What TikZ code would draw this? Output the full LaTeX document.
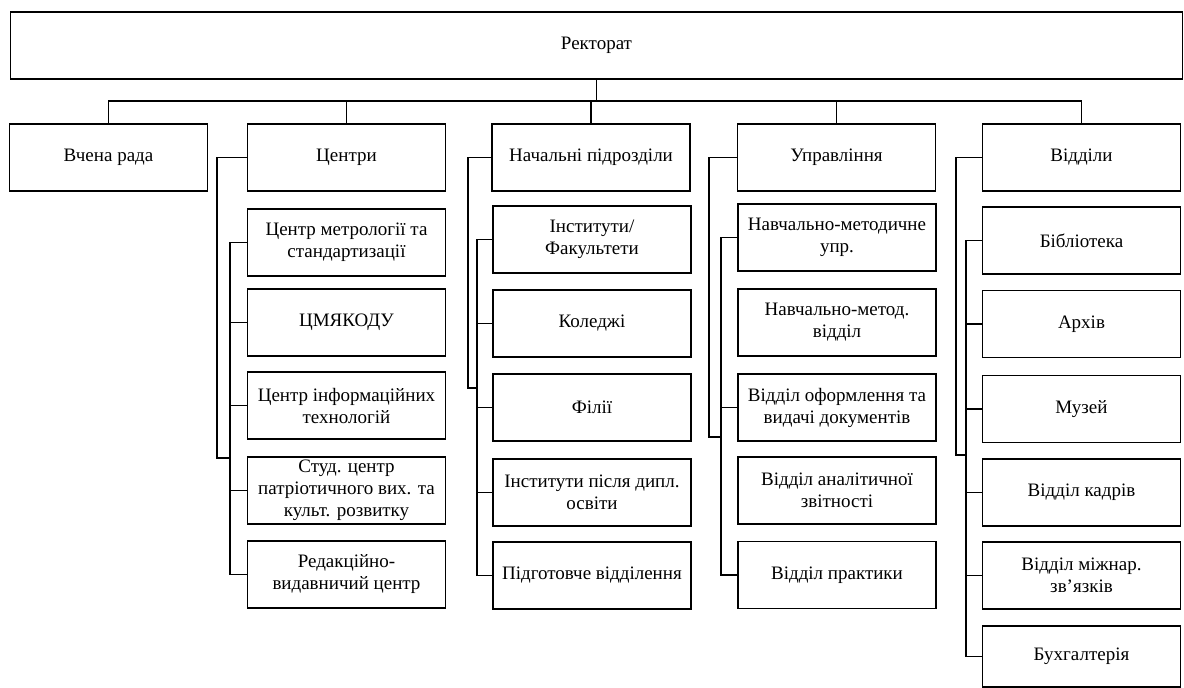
\documentclass[tikz,border=0pt]{standalone}
\usepackage{fontspec}
\setmainfont{Liberation Serif}
\begin{document}
\tikzset{
  box/.style={draw, line width=1.5pt, minimum width=198pt, minimum height=67pt, inner sep=0pt, align=center, font=\fontsize{19}{22}\selectfont},
  wire/.style={line width=1.5pt}
}
\begin{tikzpicture}[x=1pt,y=-1pt]
\useasboundingbox (0,0) rectangle (1184,688);
% top
\node[box, minimum width=1172pt] (rect) at (596.5,45.5) {Ректорат};
% level 2
\node[box] (vr) at (108.5,157.5) {Вчена рада};
\node[box] (ct) at (346.5,157.5) {Центри};
\node[box] (np) at (591,157.5) {Начальні підрозділи};
\node[box] (up) at (836.5,157.5) {Управління};
\node[box] (vd) at (1081.5,157.5) {Відділи};
\coordinate (bus) at (0,101);
\draw[wire] (rect.south) -- (rect.south |- bus);
\draw[wire] (vr.north) -- (vr.north |- bus) -- (vd.north |- bus) -- (vd.north);
\draw[wire] (ct.north) -- (ct.north |- bus);
\draw[wire] (np.north) -- (np.north |- bus);
\draw[wire] (up.north) -- (up.north |- bus);
% Centres
\node[box] (ct1) at (346.5,242.5) {Центр метрології та\\стандартизації};
\node[box] (ct2) at (346.5,322.5) {ЦМЯКОДУ};
\node[box] (ct3) at (346.5,405.5) {Центр інформаційних\\технологій};
\node[box] (ct4) at (346.5,490.5) {Студ. центр\\патріотичного вих. та\\культ. розвитку};
\node[box] (ct5) at (346.5,574.5) {Редакційно-\\видавничий центр};
\coordinate (ctT) at (230,0);
\coordinate (ctO) at (217,458);
\draw[wire] (ct.west) -| (ctO) -- (ctO -| ctT);
\draw[wire] (ct1.west) -- (ct1.west -| ctT) -- (ct5.west -| ctT) -- (ct5.west);
\foreach \i in {2,3,4} \draw[wire] (ct\i.west) -- (ct\i.west -| ctT);
% Initial units
\node[box] (np1) at (592,239.5) {Інститути/\\Факультети};
\node[box] (np2) at (592,323.5) {Коледжі};
\node[box] (np3) at (592,407.5) {Філії};
\node[box] (np4) at (592,492.5) {Інститути після дипл.\\освіти};
\node[box] (np5) at (592,575.5) {Підготовче відділення};
\coordinate (npT) at (477,0);
\coordinate (npO) at (468,388);
\draw[wire] (np.west) -| (npO) -- (npO -| npT);
\draw[wire] (np1.west) -- (np1.west -| npT) -- (np5.west -| npT) -- (np5.west);
\foreach \i in {2,3,4} \draw[wire] (np\i.west) -- (np\i.west -| npT);
% Administrations
\node[box] (up1) at (837,237.5) {Навчально-методичне\\упр.};
\node[box] (up2) at (837,322.5) {Навчально-метод.\\відділ};
\node[box] (up3) at (837,407.5) {Відділ оформлення та\\видачі документів};
\node[box] (up4) at (837,490.5) {Відділ аналітичної\\звітності};
\node[box] (up5) at (837,575) {Відділ практики};
\coordinate (upT) at (721,0);
\coordinate (upO) at (709,437);
\draw[wire] (up.west) -| (upO) -- (upO -| upT);
\draw[wire] (up1.west) -- (up1.west -| upT) -- (up5.west -| upT) -- (up5.west);
\draw[wire] (up3.west) -- (up3.west -| upT);
% Departments
\node[box] (vd1) at (1081.5,240.5) {Бібліотека};
\node[box] (vd2) at (1081.5,324) {Архів};
\node[box] (vd3) at (1081.5,409) {Музей};
\node[box] (vd4) at (1081.5,492.5) {Відділ кадрів};
\node[box] (vd5) at (1081.5,575.5) {Відділ міжнар.\\зв’язків};
\node[box, minimum height=61pt] (vd6) at (1081.5,656.5) {Бухгалтерія};
\coordinate (vdT) at (966,0);
\coordinate (vdO) at (956,455);
\draw[wire] (vd.west) -| (vdO) -- (vdO -| vdT);
\draw[wire] (vd1.west) -- (vd1.west -| vdT) -- (vd6.west -| vdT) -- (vd6.west);
\foreach \i in {2,3,4,5} \draw[wire] (vd\i.west) -- (vd\i.west -| vdT);
\end{tikzpicture}
\end{document}
